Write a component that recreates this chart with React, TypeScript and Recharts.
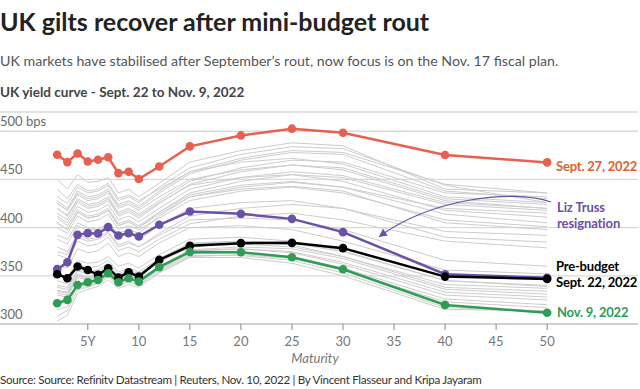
import React from 'react';
import { LineChart, Line, XAxis, YAxis, CartesianGrid } from 'recharts';

// Maturities (years) at which yields are sampled
const maturities = [2, 3, 4, 5, 6, 7, 8, 9, 10, 12, 15, 20, 25, 30, 40, 50];

// Highlighted curves (bps)
const sept27 = [475.7, 468, 477, 468.7, 470.5, 473, 456.6, 458, 450.4, 463.5, 484.3, 495.7, 502.7, 498.5, 475.4, 467.7];
const trussResignation = [356.9, 364, 392.5, 394.3, 394, 400.5, 391.8, 394.3, 390.8, 403, 416.7, 414.3, 409.1, 395.3, 351.7, 348];
const preBudget = [351.7, 347.5, 359.6, 356.1, 351, 357.9, 348.1, 353.7, 349.2, 366.5, 381.1, 383.9, 384.2, 378.7, 349.2, 346.8];
const nov9 = [321.5, 325, 340.5, 343.3, 345.7, 352.7, 343.3, 347.5, 344, 359, 374.8, 374.5, 369.3, 356.8, 319.8, 311.7];

// Other trading days between Sept. 22 and Nov. 9 (bps)
const otherDays = [
  [392, 388, 405, 400, 398, 404, 394, 398, 394, 412, 432, 440, 443, 438, 405, 398],
  [450, 440, 455, 447, 448, 452, 436, 440, 432, 446, 468, 480, 488, 485, 440, 436],
  [440, 430, 445, 438, 440, 446, 430, 434, 428, 440, 458, 468, 472, 466, 432, 426],
  [425, 418, 434, 428, 430, 436, 420, 424, 418, 432, 450, 460, 465, 460, 428, 420],
  [420, 412, 428, 422, 424, 430, 414, 418, 412, 426, 444, 452, 455, 448, 418, 411],
  [410, 402, 418, 412, 414, 420, 404, 408, 402, 416, 434, 444, 448, 442, 414, 405],
  [400, 394, 412, 406, 408, 414, 398, 402, 398, 410, 428, 438, 442, 436, 408, 401],
  [405, 398, 416, 410, 412, 418, 402, 406, 400, 414, 432, 442, 447, 442, 420, 415],
  [412, 405, 422, 416, 418, 424, 408, 412, 406, 420, 440, 452, 458, 454, 426, 420],
  [420, 413, 430, 424, 426, 432, 416, 420, 414, 428, 448, 462, 470, 468, 436, 432],
  [428, 420, 438, 432, 434, 440, 424, 428, 422, 438, 458, 472, 480, 478, 445, 436],
  [432, 425, 442, 436, 438, 444, 428, 432, 426, 442, 462, 476, 484, 482, 444, 426],
  [425, 418, 436, 430, 432, 438, 422, 426, 420, 436, 456, 470, 478, 476, 438, 430],
  [415, 408, 426, 420, 422, 428, 412, 416, 410, 425, 445, 458, 465, 462, 430, 424],
  [405, 398, 416, 410, 412, 418, 402, 406, 400, 416, 436, 448, 455, 452, 424, 418],
  [380, 375, 394, 388, 390, 396, 382, 386, 380, 394, 412, 420, 424, 420, 396, 392],
  [372, 368, 386, 381, 383, 390, 376, 380, 375, 388, 404, 412, 415, 408, 386, 379],
  [388, 383, 402, 397, 398, 405, 390, 394, 388, 402, 420, 426, 428, 420, 390, 385],
  [375, 372, 390, 386, 388, 394, 380, 384, 380, 392, 408, 410, 408, 398, 366, 360],
  [360, 358, 378, 374, 376, 384, 370, 374, 370, 384, 400, 402, 398, 386, 356, 352],
  [345, 342, 362, 358, 360, 366, 354, 358, 354, 368, 384, 386, 382, 370, 338, 334],
  [335, 333, 352, 349, 351, 358, 346, 350, 346, 360, 376, 378, 374, 362, 330, 325],
  [330, 328, 348, 346, 348, 355, 343, 347, 343, 357, 373, 374, 370, 358, 326, 320],
  [332, 330, 350, 347, 349, 356, 345, 349, 345, 360, 376, 378, 375, 364, 333, 328],
  [338, 336, 355, 352, 354, 361, 350, 354, 350, 364, 380, 383, 380, 370, 341, 337],
  [334, 332, 350, 348, 350, 357, 346, 350, 346, 360, 377, 380, 378, 368, 336, 331],
  [340, 338, 356, 354, 356, 363, 352, 356, 352, 366, 383, 386, 384, 375, 345, 340],
  [350, 348, 366, 363, 364, 370, 360, 363, 358, 372, 388, 390, 386, 376, 345, 339],
  [315, 318, 340, 340, 343, 350, 340, 344, 340, 354, 370, 372, 368, 356, 323, 317],
  [308, 314, 336, 338, 342, 349, 339, 344, 341, 356, 371, 371, 366, 353, 317, 313],
  [303, 309, 332, 336, 339, 346, 337, 341, 338, 353, 369, 369, 363, 350, 315, 314],
];

const xTicks = [5, 10, 15, 20, 25, 30, 35, 40, 45, 50];
const yTicks = [300, 350, 400, 450, 500];

const RED = '#e8604f';
const PURPLE = '#6a50a7';
const BLACK = '#000000';
const GREEN = '#2e9d55';
const FONT = 'Lato, "Noto Sans", sans-serif';

const data = maturities.map((m, i) => {
  const row: Record<string, number> = {
    m,
    sept27: sept27[i],
    truss: trussResignation[i],
    pre: preBudget[i],
    nov9: nov9[i],
  };
  otherDays.forEach((d, j) => {
    row['g' + j] = d[i];
  });
  return row;
});

const renderYTick = (props: any) => {
  const { y, payload } = props;
  const label = payload.value === 500 ? '500 bps' : String(payload.value);
  return (
    <text key={'yt' + payload.value} x={0} y={y - 5} fill="#6b6b6b" fontSize={13} fontFamily={FONT} textAnchor="start">
      {label}
    </text>
  );
};

const abs = (left: number, top: number, extra: React.CSSProperties = {}): React.CSSProperties => ({
  position: 'absolute',
  left,
  top,
  whiteSpace: 'nowrap',
  fontFamily: FONT,
  ...extra,
});

export default function App() {
  return (
    <div style={{ position: 'relative', width: 640, height: 389, background: '#fff', overflow: 'hidden' }}>
      <style>{`body{margin:0;background:#fff}`}</style>
      <div style={abs(0, 6, { fontSize: 25, fontWeight: 700, color: '#222', lineHeight: '30px' })}>
        UK gilts recover after mini-budget rout
      </div>
      <div style={abs(0, 51, { fontSize: 14.2, fontWeight: 400, color: '#555', lineHeight: '20px' })}>
        UK markets have stabilised after September’s rout, now focus is on the Nov. 17 fiscal plan.
      </div>
      <div style={abs(0, 83, { fontSize: 13.5, fontWeight: 700, color: '#444', lineHeight: '18px' })}>
        UK yield curve - Sept. 22 to Nov. 9, 2022
      </div>

      <div style={{ position: 'absolute', left: 0, top: 0 }}>
        <LineChart width={640} height={389} data={data} margin={{ top: 112, right: 2, bottom: 35, left: -1 }}>
          <CartesianGrid horizontal vertical={false} stroke="#dadada" strokeWidth={1.3} />
          <XAxis
            type="number"
            dataKey="m"
            domain={[-3.6, 58.9]}
            ticks={xTicks}
            tickFormatter={(v: number) => (v === 5 ? '5Y' : String(v))}
            height={30}
            tickSize={6}
            tickMargin={7}
            tickLine={{ stroke: '#888' }}
            axisLine={{ stroke: '#cfcfcf', strokeWidth: 2 }}
            tick={{ fill: '#777', fontSize: 13, fontFamily: FONT }}
          />
          <YAxis
            type="number"
            domain={[300, 520]}
            ticks={yTicks}
            width={1}
            axisLine={false}
            tickLine={false}
            tick={renderYTick}
          />
          {otherDays.map((_, j) => (
            <Line
              key={'g' + j}
              dataKey={'g' + j}
              type="linear"
              stroke="#cdcdcd"
              strokeWidth={1}
              dot={false}
              activeDot={false}
              isAnimationActive={false}
            />
          ))}
          <Line dataKey="truss" type="linear" stroke={PURPLE} strokeWidth={2.5} dot={{ r: 4.3, fill: PURPLE, stroke: PURPLE, strokeWidth: 0 }} isAnimationActive={false} />
          <Line dataKey="pre" type="linear" stroke={BLACK} strokeWidth={2.5} dot={{ r: 4.3, fill: BLACK, stroke: BLACK, strokeWidth: 0 }} isAnimationActive={false} />
          <Line dataKey="nov9" type="linear" stroke={GREEN} strokeWidth={2.5} dot={{ r: 4.3, fill: GREEN, stroke: GREEN, strokeWidth: 0 }} isAnimationActive={false} />
          <Line dataKey="sept27" type="linear" stroke={RED} strokeWidth={2.5} dot={{ r: 4.3, fill: RED, stroke: RED, strokeWidth: 0 }} isAnimationActive={false} />
        </LineChart>
      </div>

      <svg width={640} height={389} style={{ position: 'absolute', left: 0, top: 0, pointerEvents: 'none' }}>
        <defs>
          <marker id="arr" viewBox="0 0 10 10" refX="8" refY="5" markerWidth="7" markerHeight="7" orient="auto">
            <path d="M0,0 L10,5 L0,10 z" fill={PURPLE} />
          </marker>
        </defs>
        <path d="M551,202 C510,188 430,200 380,236" fill="none" stroke={PURPLE} strokeWidth={1.2} markerEnd="url(#arr)" />
      </svg>

      <div style={abs(556, 158, { fontSize: 13, letterSpacing: -0.2, fontWeight: 700, color: '#e0602f', lineHeight: '17px' })}>Sept. 27, 2022</div>
      <div style={abs(557, 199, { fontSize: 13, letterSpacing: -0.1, fontWeight: 700, color: PURPLE, lineHeight: '16px' })}>
        Liz Truss
        <br />
        resignation
      </div>
      <div style={abs(556, 258, { fontSize: 13, letterSpacing: -0.2, fontWeight: 700, color: '#000', lineHeight: '16px' })}>
        Pre-budget
        <br />
        Sept. 22, 2022
      </div>
      <div style={abs(557, 304, { fontSize: 13, letterSpacing: -0.2, fontWeight: 700, color: GREEN, lineHeight: '17px' })}>Nov. 9, 2022</div>

      <div style={abs(0, 350, { width: 640, textAlign: 'center', left: -5, fontSize: 13, fontStyle: 'italic', color: '#777', lineHeight: '16px' })}>
        Maturity
      </div>
      <div style={abs(0, 372, { fontSize: 11.6, letterSpacing: -0.3, color: '#333', lineHeight: '16px' })}>
        Source: Source: Refinitv Datastream | Reuters, Nov. 10, 2022 | By Vincent Flasseur and Kripa Jayaram
      </div>
    </div>
  );
}
